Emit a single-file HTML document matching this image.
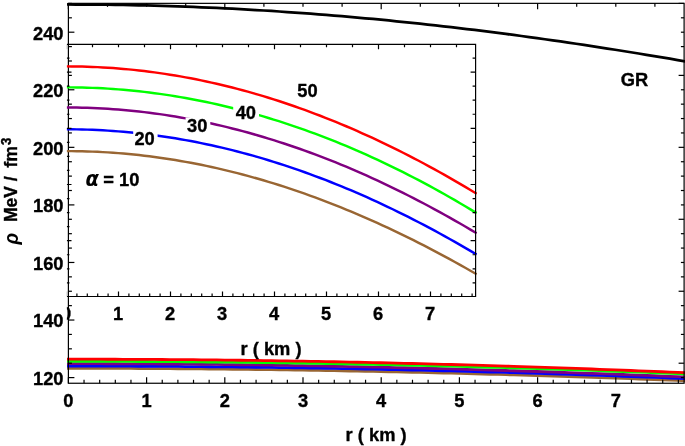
<!DOCTYPE html>
<html><head><meta charset="utf-8"><title>plot</title><style>html,body{margin:0;padding:0;background:#fff}svg{display:block}</style></head><body>
<svg width="685" height="446" viewBox="0 0 685 446">
<defs><clipPath id="cm"><rect x="66.9" y="0" width="618.1" height="384"/></clipPath><clipPath id="ci"><rect x="66.9" y="43" width="410.30000000000007" height="340"/></clipPath></defs>
<rect width="685" height="446" fill="#fff"/>
<g fill="none" stroke-width="2.8" stroke-linecap="square" clip-path="url(#cm)">
<polyline points="68.40,368.34 76.21,368.34 84.02,368.34 91.83,368.35 99.65,368.37 107.46,368.39 115.27,368.41 123.08,368.44 130.89,368.47 138.70,368.51 146.51,368.55 154.33,368.59 162.14,368.64 169.95,368.69 177.76,368.75 185.57,368.81 193.38,368.87 201.19,368.94 209.01,369.01 216.82,369.08 224.63,369.16 232.44,369.25 240.25,369.33 248.06,369.42 255.87,369.52 263.68,369.62 271.50,369.72 279.31,369.83 287.12,369.94 294.93,370.05 302.74,370.17 310.55,370.30 318.36,370.42 326.18,370.56 333.99,370.69 341.80,370.83 349.61,370.98 357.42,371.12 365.23,371.28 373.04,371.43 380.86,371.59 388.67,371.75 396.48,371.92 404.29,372.09 412.10,372.27 419.91,372.45 427.72,372.63 435.54,372.82 443.35,373.01 451.16,373.20 458.97,373.40 466.78,373.61 474.59,373.81 482.40,374.02 490.22,374.24 498.03,374.45 505.84,374.67 513.65,374.90 521.46,375.13 529.27,375.36 537.08,375.60 544.89,375.84 552.71,376.08 560.52,376.33 568.33,376.58 576.14,376.83 583.95,377.09 591.76,377.35 599.57,377.62 607.39,377.89 615.20,378.16 623.01,378.43 630.82,378.71 638.63,379.00 646.44,379.28 654.25,379.57 662.07,379.86 669.88,380.16 677.69,380.46 685.50,380.76" stroke="#996633"/>
<polyline points="68.40,366.06 76.21,366.06 84.02,366.06 91.83,366.08 99.65,366.09 107.46,366.11 115.27,366.13 123.08,366.16 130.89,366.19 138.70,366.23 146.51,366.27 154.33,366.31 162.14,366.36 169.95,366.41 177.76,366.47 185.57,366.53 193.38,366.59 201.19,366.66 209.01,366.73 216.82,366.81 224.63,366.88 232.44,366.97 240.25,367.05 248.06,367.14 255.87,367.24 263.68,367.34 271.50,367.44 279.31,367.55 287.12,367.66 294.93,367.77 302.74,367.89 310.55,368.02 318.36,368.14 326.18,368.28 333.99,368.41 341.80,368.55 349.61,368.70 357.42,368.84 365.23,369.00 373.04,369.15 380.86,369.31 388.67,369.48 396.48,369.64 404.29,369.82 412.10,369.99 419.91,370.17 427.72,370.36 435.54,370.55 443.35,370.74 451.16,370.94 458.97,371.14 466.78,371.34 474.59,371.55 482.40,371.76 490.22,371.98 498.03,372.20 505.84,372.42 513.65,372.65 521.46,372.88 529.27,373.12 537.08,373.36 544.89,373.60 552.71,373.85 560.52,374.10 568.33,374.36 576.14,374.61 583.95,374.88 591.76,375.14 599.57,375.41 607.39,375.69 615.20,375.96 623.01,376.25 630.82,376.53 638.63,376.82 646.44,377.11 654.25,377.41 662.07,377.71 669.88,378.01 677.69,378.32 685.50,378.63" stroke="#0000ff"/>
<polyline points="68.40,363.68 76.21,363.68 84.02,363.69 91.83,363.70 99.65,363.71 107.46,363.73 115.27,363.75 123.08,363.78 130.89,363.81 138.70,363.85 146.51,363.89 154.33,363.93 162.14,363.98 169.95,364.03 177.76,364.09 185.57,364.15 193.38,364.22 201.19,364.29 209.01,364.37 216.82,364.45 224.63,364.54 232.44,364.64 240.25,364.73 248.06,364.84 255.87,364.94 263.68,365.05 271.50,365.17 279.31,365.28 287.12,365.41 294.93,365.53 302.74,365.67 310.55,365.80 318.36,365.94 326.18,366.08 333.99,366.23 341.80,366.38 349.61,366.54 357.42,366.70 365.23,366.86 373.04,367.03 380.86,367.20 388.67,367.38 396.48,367.56 404.29,367.74 412.10,367.93 419.91,368.12 427.72,368.32 435.54,368.52 443.35,368.72 451.16,368.93 458.97,369.14 466.78,369.36 474.59,369.58 482.40,369.80 490.22,370.03 498.03,370.26 505.84,370.50 513.65,370.74 521.46,370.98 529.27,371.23 537.08,371.48 544.89,371.74 552.71,372.00 560.52,372.26 568.33,372.53 576.14,372.80 583.95,373.07 591.76,373.35 599.57,373.64 607.39,373.92 615.20,374.21 623.01,374.51 630.82,374.80 638.63,375.10 646.44,375.41 654.25,375.72 662.07,376.03 669.88,376.34 677.69,376.66 685.50,376.99" stroke="#800080"/>
<polyline points="68.40,361.32 76.21,361.32 84.02,361.32 91.83,361.33 99.65,361.35 107.46,361.37 115.27,361.39 123.08,361.42 130.89,361.45 138.70,361.48 146.51,361.52 154.33,361.57 162.14,361.61 169.95,361.67 177.76,361.72 185.57,361.78 193.38,361.85 201.19,361.91 209.01,361.98 216.82,362.06 224.63,362.14 232.44,362.22 240.25,362.30 248.06,362.39 255.87,362.49 263.68,362.59 271.50,362.69 279.31,362.80 287.12,362.91 294.93,363.02 302.74,363.14 310.55,363.26 318.36,363.39 326.18,363.52 333.99,363.66 341.80,363.80 349.61,363.94 357.42,364.09 365.23,364.24 373.04,364.40 380.86,364.56 388.67,364.72 396.48,364.89 404.29,365.07 412.10,365.24 419.91,365.42 427.72,365.61 435.54,365.80 443.35,365.99 451.16,366.19 458.97,366.39 466.78,366.60 474.59,366.80 482.40,367.02 490.22,367.24 498.03,367.46 505.84,367.68 513.65,367.91 521.46,368.15 529.27,368.39 537.08,368.63 544.89,368.88 552.71,369.13 560.52,369.38 568.33,369.64 576.14,369.90 583.95,370.17 591.76,370.44 599.57,370.71 607.39,370.99 615.20,371.28 623.01,371.56 630.82,371.85 638.63,372.15 646.44,372.45 654.25,372.75 662.07,373.06 669.88,373.37 677.69,373.68 685.50,374.00" stroke="#00ff00"/>
<polyline points="68.40,359.17 76.21,359.18 84.02,359.18 91.83,359.19 99.65,359.21 107.46,359.23 115.27,359.25 123.08,359.28 130.89,359.31 138.70,359.35 146.51,359.39 154.33,359.43 162.14,359.48 169.95,359.53 177.76,359.59 185.57,359.65 193.38,359.72 201.19,359.79 209.01,359.87 216.82,359.96 224.63,360.05 232.44,360.15 240.25,360.24 248.06,360.35 255.87,360.46 263.68,360.57 271.50,360.68 279.31,360.80 287.12,360.93 294.93,361.06 302.74,361.19 310.55,361.33 318.36,361.47 326.18,361.62 333.99,361.77 341.80,361.92 349.61,362.08 357.42,362.24 365.23,362.41 373.04,362.58 380.86,362.75 388.67,362.93 396.48,363.11 404.29,363.30 412.10,363.49 419.91,363.69 427.72,363.89 435.54,364.09 443.35,364.30 451.16,364.51 458.97,364.73 466.78,364.95 474.59,365.17 482.40,365.40 490.22,365.63 498.03,365.86 505.84,366.10 513.65,366.35 521.46,366.60 529.27,366.85 537.08,367.10 544.89,367.36 552.71,367.63 560.52,367.90 568.33,368.17 576.14,368.44 583.95,368.72 591.76,369.01 599.57,369.29 607.39,369.59 615.20,369.88 623.01,370.18 630.82,370.48 638.63,370.79 646.44,371.10 654.25,371.41 662.07,371.73 669.88,372.05 677.69,372.38 685.50,372.71" stroke="#ff0000"/>
<polyline points="68.40,4.50 76.21,4.51 84.02,4.54 91.83,4.59 99.65,4.65 107.46,4.74 115.27,4.85 123.08,4.97 130.89,5.12 138.70,5.28 146.51,5.47 154.33,5.67 162.14,5.89 169.95,6.13 177.76,6.39 185.57,6.67 193.38,6.97 201.19,7.28 209.01,7.62 216.82,7.98 224.63,8.35 232.44,8.74 240.25,9.15 248.06,9.59 255.87,10.03 263.68,10.50 271.50,10.99 279.31,11.50 287.12,12.02 294.93,12.56 302.74,13.12 310.55,13.70 318.36,14.30 326.18,14.92 333.99,15.55 341.80,16.20 349.61,16.87 357.42,17.56 365.23,18.27 373.04,18.99 380.86,19.73 388.67,20.49 396.48,21.27 404.29,22.06 412.10,22.87 419.91,23.70 427.72,24.55 435.54,25.41 443.35,26.29 451.16,27.19 458.97,28.11 466.78,29.04 474.59,29.98 482.40,30.95 490.22,31.93 498.03,32.92 505.84,33.94 513.65,34.97 521.46,36.01 529.27,37.07 537.08,38.15 544.89,39.24 552.71,40.35 560.52,41.47 568.33,42.61 576.14,43.76 583.95,44.93 591.76,46.11 599.57,47.31 607.39,48.52 615.20,49.75 623.01,50.99 630.82,52.24 638.63,53.51 646.44,54.79 654.25,56.09 662.07,57.40 669.88,58.72 677.69,60.06 685.50,61.41" stroke="#000" stroke-width="2.75"/>
</g>
<g stroke="#000" stroke-width="1.2" fill="none">
<rect x="68.4" y="3.35" width="615.7" height="379.9"/>
<path d="M68.40 383.25v-6"/>
<path d="M84.04 383.25v-3.5"/>
<path d="M99.68 383.25v-3.5"/>
<path d="M115.32 383.25v-3.5"/>
<path d="M130.96 383.25v-3.5"/>
<path d="M146.60 383.25v-6"/>
<path d="M162.24 383.25v-3.5"/>
<path d="M177.88 383.25v-3.5"/>
<path d="M193.52 383.25v-3.5"/>
<path d="M209.16 383.25v-3.5"/>
<path d="M224.80 383.25v-6"/>
<path d="M240.44 383.25v-3.5"/>
<path d="M256.08 383.25v-3.5"/>
<path d="M271.72 383.25v-3.5"/>
<path d="M287.36 383.25v-3.5"/>
<path d="M303.00 383.25v-6"/>
<path d="M318.64 383.25v-3.5"/>
<path d="M334.28 383.25v-3.5"/>
<path d="M349.92 383.25v-3.5"/>
<path d="M365.56 383.25v-3.5"/>
<path d="M381.20 383.25v-6"/>
<path d="M396.84 383.25v-3.5"/>
<path d="M412.48 383.25v-3.5"/>
<path d="M428.12 383.25v-3.5"/>
<path d="M443.76 383.25v-3.5"/>
<path d="M459.40 383.25v-6"/>
<path d="M475.04 383.25v-3.5"/>
<path d="M490.68 383.25v-3.5"/>
<path d="M506.32 383.25v-3.5"/>
<path d="M521.96 383.25v-3.5"/>
<path d="M537.60 383.25v-6"/>
<path d="M553.24 383.25v-3.5"/>
<path d="M568.88 383.25v-3.5"/>
<path d="M584.52 383.25v-3.5"/>
<path d="M600.16 383.25v-3.5"/>
<path d="M615.80 383.25v-6"/>
<path d="M631.44 383.25v-3.5"/>
<path d="M647.08 383.25v-3.5"/>
<path d="M662.72 383.25v-3.5"/>
<path d="M678.36 383.25v-3.5"/>
<path d="M68.40 3.35v6"/>
<path d="M107.50 3.35v3.5"/>
<path d="M146.60 3.35v3.5"/>
<path d="M185.70 3.35v3.5"/>
<path d="M224.80 3.35v6"/>
<path d="M263.90 3.35v3.5"/>
<path d="M303.00 3.35v3.5"/>
<path d="M342.10 3.35v3.5"/>
<path d="M381.20 3.35v6"/>
<path d="M420.30 3.35v3.5"/>
<path d="M459.40 3.35v3.5"/>
<path d="M498.50 3.35v3.5"/>
<path d="M537.60 3.35v6"/>
<path d="M576.70 3.35v3.5"/>
<path d="M615.80 3.35v3.5"/>
<path d="M654.90 3.35v3.5"/>
<path d="M68.4 377.60h6"/>
<path d="M68.4 363.21h3.5"/>
<path d="M68.4 348.82h3.5"/>
<path d="M68.4 334.43h3.5"/>
<path d="M68.4 320.03h6"/>
<path d="M68.4 305.64h3.5"/>
<path d="M68.4 291.25h3.5"/>
<path d="M68.4 276.86h3.5"/>
<path d="M68.4 262.47h6"/>
<path d="M68.4 248.08h3.5"/>
<path d="M68.4 233.69h3.5"/>
<path d="M68.4 219.29h3.5"/>
<path d="M68.4 204.90h6"/>
<path d="M68.4 190.51h3.5"/>
<path d="M68.4 176.12h3.5"/>
<path d="M68.4 161.73h3.5"/>
<path d="M68.4 147.34h6"/>
<path d="M68.4 132.94h3.5"/>
<path d="M68.4 118.55h3.5"/>
<path d="M68.4 104.16h3.5"/>
<path d="M68.4 89.77h6"/>
<path d="M68.4 75.38h3.5"/>
<path d="M68.4 60.99h3.5"/>
<path d="M68.4 46.60h3.5"/>
<path d="M68.4 32.20h6"/>
<path d="M68.4 17.81h3.5"/>
<path d="M68.4 3.42h3.5"/>
<path d="M684.1 377.60h-3.2"/>
<path d="M684.1 363.21h-5.5"/>
<path d="M684.1 348.82h-3.2"/>
<path d="M684.1 334.43h-3.2"/>
<path d="M684.1 320.03h-3.2"/>
<path d="M684.1 305.64h-3.2"/>
<path d="M684.1 291.25h-5.5"/>
<path d="M684.1 276.86h-3.2"/>
<path d="M684.1 262.47h-3.2"/>
<path d="M684.1 248.08h-3.2"/>
<path d="M684.1 233.69h-3.2"/>
<path d="M684.1 219.29h-5.5"/>
<path d="M684.1 204.90h-3.2"/>
<path d="M684.1 190.51h-3.2"/>
<path d="M684.1 176.12h-3.2"/>
<path d="M684.1 161.73h-3.2"/>
<path d="M684.1 147.34h-5.5"/>
<path d="M684.1 132.94h-3.2"/>
<path d="M684.1 118.55h-3.2"/>
<path d="M684.1 104.16h-3.2"/>
<path d="M684.1 89.77h-3.2"/>
<path d="M684.1 75.38h-5.5"/>
<path d="M684.1 60.99h-3.2"/>
<path d="M684.1 46.60h-3.2"/>
<path d="M684.1 32.20h-3.2"/>
<path d="M684.1 17.81h-3.2"/>
<path d="M684.1 3.42h-5.5"/>
</g>
<g clip-path="url(#ci)">
<g fill="none" stroke-width="2.45" stroke-linecap="square">
<polyline points="66.50,151.10 71.68,151.12 76.86,151.18 82.04,151.28 87.21,151.43 92.39,151.61 97.57,151.83 102.75,152.10 107.93,152.40 113.11,152.75 118.28,153.14 123.46,153.56 128.64,154.03 133.82,154.54 139.00,155.09 144.18,155.68 149.36,156.31 154.53,156.98 159.71,157.69 164.89,158.44 170.07,159.23 175.25,160.06 180.43,160.94 185.61,161.85 190.78,162.80 195.96,163.79 201.14,164.82 206.32,165.89 211.50,167.00 216.68,168.15 221.85,169.34 227.03,170.57 232.21,171.84 237.39,173.15 242.57,174.50 247.75,175.89 252.93,177.31 258.10,178.78 263.28,180.28 268.46,181.82 273.64,183.40 278.82,185.02 284.00,186.68 289.17,188.38 294.35,190.11 299.53,191.88 304.71,193.69 309.89,195.54 315.07,197.43 320.25,199.35 325.42,201.31 330.60,203.31 335.78,205.34 340.96,207.41 346.14,209.52 351.32,211.66 356.49,213.85 361.67,216.06 366.85,218.32 372.03,220.61 377.21,222.93 382.39,225.29 387.57,227.69 392.74,230.12 397.92,232.59 403.10,235.09 408.28,237.63 413.46,240.20 418.64,242.81 423.82,245.45 428.99,248.12 434.17,250.83 439.35,253.57 444.53,256.34 449.71,259.15 454.89,261.99 460.06,264.87 465.24,267.77 470.42,270.71 475.60,273.68" stroke="#996633"/>
<polyline points="66.50,129.30 71.68,129.32 76.86,129.38 82.04,129.48 87.21,129.63 92.39,129.81 97.57,130.04 102.75,130.30 107.93,130.61 113.11,130.96 118.28,131.35 123.46,131.78 128.64,132.25 133.82,132.76 139.00,133.31 144.18,133.90 149.36,134.53 154.53,135.21 159.71,135.92 164.89,136.68 170.07,137.47 175.25,138.31 180.43,139.19 185.61,140.10 190.78,141.06 195.96,142.06 201.14,143.10 206.32,144.18 211.50,145.30 216.68,146.46 221.85,147.65 227.03,148.89 232.21,150.17 237.39,151.49 242.57,152.85 247.75,154.25 252.93,155.69 258.10,157.17 263.28,158.69 268.46,160.24 273.64,161.84 278.82,163.48 284.00,165.15 289.17,166.87 294.35,168.62 299.53,170.42 304.71,172.25 309.89,174.12 315.07,176.03 320.25,177.98 325.42,179.97 330.60,181.99 335.78,184.06 340.96,186.16 346.14,188.30 351.32,190.48 356.49,192.70 361.67,194.95 366.85,197.24 372.03,199.58 377.21,201.94 382.39,204.35 387.57,206.79 392.74,209.27 397.92,211.79 403.10,214.34 408.28,216.94 413.46,219.56 418.64,222.23 423.82,224.93 428.99,227.67 434.17,230.44 439.35,233.25 444.53,236.10 449.71,238.98 454.89,241.90 460.06,244.85 465.24,247.84 470.42,250.86 475.60,253.92" stroke="#0000ff"/>
<polyline points="66.50,107.50 71.68,107.52 76.86,107.58 82.04,107.68 87.21,107.83 92.39,108.01 97.57,108.24 102.75,108.51 107.93,108.81 113.11,109.16 118.28,109.55 123.46,109.99 128.64,110.46 133.82,110.97 139.00,111.52 144.18,112.12 149.36,112.76 154.53,113.43 159.71,114.15 164.89,114.91 170.07,115.71 175.25,116.55 180.43,117.43 185.61,118.35 190.78,119.31 195.96,120.31 201.14,121.35 206.32,122.44 211.50,123.56 216.68,124.73 221.85,125.93 227.03,127.17 232.21,128.46 237.39,129.78 242.57,131.15 247.75,132.55 252.93,134.00 258.10,135.48 263.28,137.01 268.46,138.57 273.64,140.17 278.82,141.82 284.00,143.50 289.17,145.22 294.35,146.98 299.53,148.78 304.71,150.62 309.89,152.50 315.07,154.42 320.25,156.38 325.42,158.37 330.60,160.41 335.78,162.48 340.96,164.59 346.14,166.74 351.32,168.93 356.49,171.16 361.67,173.42 366.85,175.72 372.03,178.07 377.21,180.44 382.39,182.86 387.57,185.31 392.74,187.80 397.92,190.33 403.10,192.90 408.28,195.50 413.46,198.14 418.64,200.81 423.82,203.53 428.99,206.28 434.17,209.06 439.35,211.88 444.53,214.74 449.71,217.64 454.89,220.57 460.06,223.53 465.24,226.53 470.42,229.57 475.60,232.64" stroke="#800080"/>
<polyline points="66.50,87.35 71.68,87.37 76.86,87.43 82.04,87.53 87.21,87.67 92.39,87.85 97.57,88.08 102.75,88.34 107.93,88.64 113.11,88.98 118.28,89.37 123.46,89.79 128.64,90.25 133.82,90.76 139.00,91.30 144.18,91.88 149.36,92.51 154.53,93.17 159.71,93.88 164.89,94.62 170.07,95.41 175.25,96.23 180.43,97.10 185.61,98.01 190.78,98.95 195.96,99.94 201.14,100.97 206.32,102.03 211.50,103.14 216.68,104.29 221.85,105.47 227.03,106.70 232.21,107.97 237.39,109.28 242.57,110.62 247.75,112.01 252.93,113.44 258.10,114.91 263.28,116.41 268.46,117.96 273.64,119.55 278.82,121.18 284.00,122.85 289.17,124.55 294.35,126.30 299.53,128.09 304.71,129.92 309.89,131.78 315.07,133.69 320.25,135.64 325.42,137.63 330.60,139.65 335.78,141.72 340.96,143.83 346.14,145.97 351.32,148.16 356.49,150.38 361.67,152.65 366.85,154.95 372.03,157.30 377.21,159.68 382.39,162.10 387.57,164.57 392.74,167.07 397.92,169.61 403.10,172.19 408.28,174.82 413.46,177.48 418.64,180.18 423.82,182.92 428.99,185.69 434.17,188.51 439.35,191.37 444.53,194.27 449.71,197.20 454.89,200.18 460.06,203.19 465.24,206.24 470.42,209.34 475.60,212.47" stroke="#00ff00"/>
<polyline points="66.50,66.40 71.68,66.42 76.86,66.48 82.04,66.59 87.21,66.73 92.39,66.92 97.57,67.15 102.75,67.41 107.93,67.73 113.11,68.08 118.28,68.47 123.46,68.91 128.64,69.38 133.82,69.90 139.00,70.46 144.18,71.06 149.36,71.70 154.53,72.38 159.71,73.11 164.89,73.87 170.07,74.68 175.25,75.52 180.43,76.41 185.61,77.34 190.78,78.31 195.96,79.32 201.14,80.37 206.32,81.47 211.50,82.60 216.68,83.78 221.85,84.99 227.03,86.25 232.21,87.55 237.39,88.88 242.57,90.26 247.75,91.68 252.93,93.14 258.10,94.64 263.28,96.18 268.46,97.76 273.64,99.38 278.82,101.04 284.00,102.74 289.17,104.48 294.35,106.26 299.53,108.08 304.71,109.94 309.89,111.84 315.07,113.78 320.25,115.76 325.42,117.78 330.60,119.84 335.78,121.94 340.96,124.08 346.14,126.25 351.32,128.47 356.49,130.72 361.67,133.02 366.85,135.35 372.03,137.72 377.21,140.13 382.39,142.58 387.57,145.06 392.74,147.59 397.92,150.15 403.10,152.75 408.28,155.39 413.46,158.07 418.64,160.79 423.82,163.54 428.99,166.33 434.17,169.16 439.35,172.03 444.53,174.93 449.71,177.87 454.89,180.85 460.06,183.87 465.24,186.92 470.42,190.01 475.60,193.13" stroke="#ff0000"/>
</g>
<g stroke="#000" stroke-width="1.2" fill="none">
<path d="M66.9 44.3H475.6V296.5H66.9"/>
<path d="M66.50 296.5v-5"/>
<path d="M76.90 296.5v-3"/>
<path d="M87.30 296.5v-3"/>
<path d="M97.70 296.5v-3"/>
<path d="M108.10 296.5v-3"/>
<path d="M118.50 296.5v-5"/>
<path d="M128.90 296.5v-3"/>
<path d="M139.30 296.5v-3"/>
<path d="M149.70 296.5v-3"/>
<path d="M160.10 296.5v-3"/>
<path d="M170.50 296.5v-5"/>
<path d="M180.90 296.5v-3"/>
<path d="M191.30 296.5v-3"/>
<path d="M201.70 296.5v-3"/>
<path d="M212.10 296.5v-3"/>
<path d="M222.50 296.5v-5"/>
<path d="M232.90 296.5v-3"/>
<path d="M243.30 296.5v-3"/>
<path d="M253.70 296.5v-3"/>
<path d="M264.10 296.5v-3"/>
<path d="M274.50 296.5v-5"/>
<path d="M284.90 296.5v-3"/>
<path d="M295.30 296.5v-3"/>
<path d="M305.70 296.5v-3"/>
<path d="M316.10 296.5v-3"/>
<path d="M326.50 296.5v-5"/>
<path d="M336.90 296.5v-3"/>
<path d="M347.30 296.5v-3"/>
<path d="M357.70 296.5v-3"/>
<path d="M368.10 296.5v-3"/>
<path d="M378.50 296.5v-5"/>
<path d="M388.90 296.5v-3"/>
<path d="M399.30 296.5v-3"/>
<path d="M409.70 296.5v-3"/>
<path d="M420.10 296.5v-3"/>
<path d="M430.50 296.5v-5"/>
<path d="M440.90 296.5v-3"/>
<path d="M451.30 296.5v-3"/>
<path d="M461.70 296.5v-3"/>
<path d="M472.10 296.5v-3"/>
<path d="M66.50 44.3v5"/>
<path d="M92.50 44.3v3"/>
<path d="M118.50 44.3v3"/>
<path d="M144.50 44.3v3"/>
<path d="M170.50 44.3v5"/>
<path d="M196.50 44.3v3"/>
<path d="M222.50 44.3v3"/>
<path d="M248.50 44.3v3"/>
<path d="M274.50 44.3v5"/>
<path d="M300.50 44.3v3"/>
<path d="M326.50 44.3v3"/>
<path d="M352.50 44.3v3"/>
<path d="M378.50 44.3v5"/>
<path d="M404.50 44.3v3"/>
<path d="M430.50 44.3v3"/>
<path d="M456.50 44.3v3"/>
<path d="M66.5 58.05h3"/>
<path d="M475.6 58.05h-3"/>
<path d="M66.5 72.10h5"/>
<path d="M475.6 72.10h-5"/>
<path d="M66.5 86.15h3"/>
<path d="M475.6 86.15h-3"/>
<path d="M66.5 100.20h3"/>
<path d="M475.6 100.20h-3"/>
<path d="M66.5 114.25h3"/>
<path d="M475.6 114.25h-3"/>
<path d="M66.5 128.30h5"/>
<path d="M475.6 128.30h-5"/>
<path d="M66.5 142.35h3"/>
<path d="M475.6 142.35h-3"/>
<path d="M66.5 156.40h3"/>
<path d="M475.6 156.40h-3"/>
<path d="M66.5 170.45h3"/>
<path d="M475.6 170.45h-3"/>
<path d="M66.5 184.50h5"/>
<path d="M475.6 184.50h-5"/>
<path d="M66.5 198.55h3"/>
<path d="M475.6 198.55h-3"/>
<path d="M66.5 212.60h3"/>
<path d="M475.6 212.60h-3"/>
<path d="M66.5 226.65h3"/>
<path d="M475.6 226.65h-3"/>
<path d="M66.5 240.70h5"/>
<path d="M475.6 240.70h-5"/>
<path d="M66.5 254.75h3"/>
<path d="M475.6 254.75h-3"/>
<path d="M66.5 268.80h3"/>
<path d="M475.6 268.80h-3"/>
<path d="M66.5 282.85h3"/>
<path d="M475.6 282.85h-3"/>
</g>
<g font-family="Liberation Sans, Arial, Helvetica, sans-serif" font-weight="bold" fill="#000" stroke="#000" stroke-width="0.35">
<text transform="translate(66.20,320.30) scale(1,1.05)" text-anchor="middle" font-size="18.3" >0</text>
<text transform="translate(118.20,320.30) scale(1,1.05)" text-anchor="middle" font-size="18.3" >1</text>
<text transform="translate(170.20,320.30) scale(1,1.05)" text-anchor="middle" font-size="18.3" >2</text>
<text transform="translate(222.20,320.30) scale(1,1.05)" text-anchor="middle" font-size="18.3" >3</text>
<text transform="translate(274.20,320.30) scale(1,1.05)" text-anchor="middle" font-size="18.3" >4</text>
<text transform="translate(326.20,320.30) scale(1,1.05)" text-anchor="middle" font-size="18.3" >5</text>
<text transform="translate(378.20,320.30) scale(1,1.05)" text-anchor="middle" font-size="18.3" >6</text>
<text transform="translate(430.20,320.30) scale(1,1.05)" text-anchor="middle" font-size="18.3" >7</text>
<text transform="translate(271.00,355.20) scale(1,1.05)" text-anchor="middle" font-size="18.3" >r ( km )</text>
</g>
</g>
<g font-family="Liberation Sans, Arial, Helvetica, sans-serif" font-weight="bold" fill="#000" stroke="#000" stroke-width="0.35">
<text transform="translate(307.50,97.20) scale(1,1.05)" text-anchor="middle" font-size="18.3" >50</text>
<rect x="233.2" y="103.7" width="25.80000000000001" height="18" fill="#fff" stroke="none"/>
<text transform="translate(245.80,118.70) scale(1,1.05)" text-anchor="middle" font-size="18.3" >40</text>
<rect x="185.6" y="117.4" width="24.700000000000017" height="18" fill="#fff" stroke="none"/>
<text transform="translate(197.20,132.40) scale(1,1.05)" text-anchor="middle" font-size="18.3" >30</text>
<rect x="133.2" y="130.3" width="24.400000000000006" height="18" fill="#fff" stroke="none"/>
<text transform="translate(144.60,145.30) scale(1,1.05)" text-anchor="middle" font-size="18.3" >20</text>
<text transform="translate(103.20,185.60) scale(1,1.05)" text-anchor="start" font-size="18.3" >=</text>
<text transform="translate(119.00,185.60) scale(1,1.05)" text-anchor="start" font-size="18.3" >10</text>
<text transform="translate(85.40,185.60) scale(1,1.05)" text-anchor="start" font-size="19.5" font-style="italic" font-family="DejaVu Sans, sans-serif" stroke="none">α</text>
<text transform="translate(634.40,86.20) scale(1,1.05)" text-anchor="middle" font-size="18.3" >GR</text>
<text transform="translate(68.40,407.00) scale(1,1.05)" text-anchor="middle" font-size="18.3" >0</text>
<text transform="translate(146.60,407.00) scale(1,1.05)" text-anchor="middle" font-size="18.3" >1</text>
<text transform="translate(224.80,407.00) scale(1,1.05)" text-anchor="middle" font-size="18.3" >2</text>
<text transform="translate(303.00,407.00) scale(1,1.05)" text-anchor="middle" font-size="18.3" >3</text>
<text transform="translate(381.20,407.00) scale(1,1.05)" text-anchor="middle" font-size="18.3" >4</text>
<text transform="translate(459.40,407.00) scale(1,1.05)" text-anchor="middle" font-size="18.3" >5</text>
<text transform="translate(537.60,407.00) scale(1,1.05)" text-anchor="middle" font-size="18.3" >6</text>
<text transform="translate(615.80,407.00) scale(1,1.05)" text-anchor="middle" font-size="18.3" >7</text>
<text transform="translate(63.50,384.80) scale(1,1.05)" text-anchor="end" font-size="18.3" >120</text>
<text transform="translate(63.50,327.32) scale(1,1.05)" text-anchor="end" font-size="18.3" >140</text>
<text transform="translate(63.50,269.84) scale(1,1.05)" text-anchor="end" font-size="18.3" >160</text>
<text transform="translate(63.50,212.36) scale(1,1.05)" text-anchor="end" font-size="18.3" >180</text>
<text transform="translate(63.50,154.88) scale(1,1.05)" text-anchor="end" font-size="18.3" >200</text>
<text transform="translate(63.50,97.40) scale(1,1.05)" text-anchor="end" font-size="18.3" >220</text>
<text transform="translate(63.50,39.92) scale(1,1.05)" text-anchor="end" font-size="18.3" >240</text>
<text transform="translate(376.10,441.30) scale(1,1.05)" text-anchor="middle" font-size="18.3" >r ( km )</text>
<text transform="translate(18.30,244.60) rotate(-90) scale(1,1.05)" text-anchor="start" font-size="19" font-style="italic" stroke="none">ρ</text>
<text transform="translate(16.80,222.10) rotate(-90) scale(1,1.05)" text-anchor="start" font-size="17.6" >MeV</text>
<text transform="translate(16.80,181.20) rotate(-90) scale(1,1.05)" text-anchor="start" font-size="17.6" >/</text>
<text transform="translate(16.80,167.60) rotate(-90) scale(1,1.05)" text-anchor="start" font-size="17.6" >fm</text>
<text transform="translate(10.70,145.00) rotate(-90) scale(1,1.05)" text-anchor="start" font-size="13.2" >3</text>
</g>
</svg>
</body></html>
